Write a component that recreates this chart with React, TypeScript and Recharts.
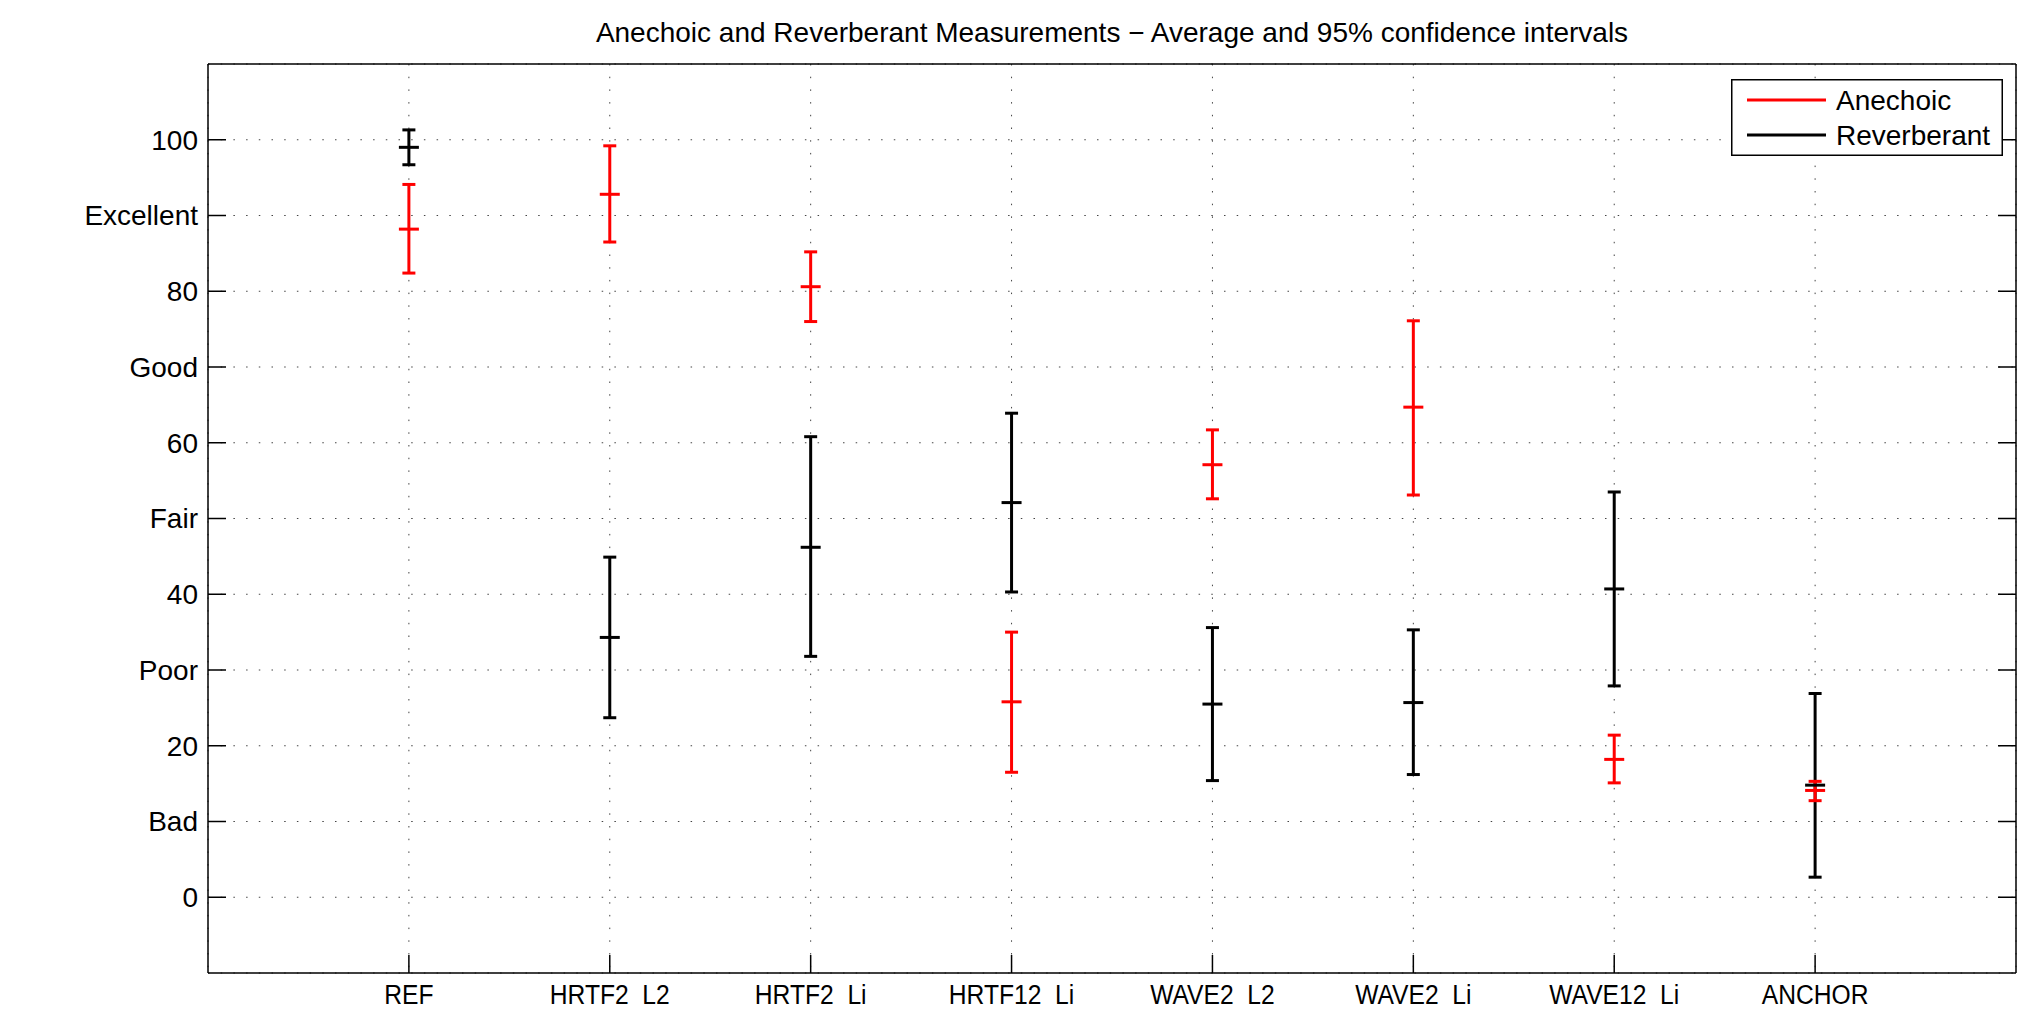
import React from 'react';
import { ComposedChart, Scatter, ErrorBar, XAxis, YAxis, CartesianGrid, Legend } from 'recharts';

if (typeof document !== 'undefined') {
  document.body.style.margin = '0';
  document.body.style.overflow = 'hidden';
}

// ---------- data ----------
const categories = ['REF', 'HRTF2  L2', 'HRTF2  Li', 'HRTF12  Li', 'WAVE2  L2', 'WAVE2  Li', 'WAVE12  Li', 'ANCHOR'];

const anechoicMean = [88.2, 92.8, 80.6, 25.8, 57.1, 64.7, 18.2, 14.1];
const anechoicLow = [82.4, 86.5, 76.0, 16.5, 52.6, 53.1, 15.1, 12.75];
const anechoicHigh = [94.1, 99.2, 85.2, 35.0, 61.7, 76.1, 21.4, 15.3];

const reverbMean = [99.0, 34.3, 46.2, 52.1, 25.5, 25.7, 40.7, 14.8];
const reverbLow = [96.7, 23.7, 31.8, 40.3, 15.4, 16.2, 27.9, 2.65];
const reverbHigh = [101.3, 44.9, 60.8, 63.9, 35.6, 35.3, 53.5, 26.9];

const yTicks = [0, 10, 20, 30, 40, 50, 60, 70, 80, 90, 100];
const yTickLabels = ['0', 'Bad', '20', 'Poor', '40', 'Fair', '60', 'Good', '80', 'Excellent', '100'];
const xTicks = categories.map((_, i) => i + 1);

const seriesNames = ['Anechoic', 'Reverberant'];
const seriesColors: Record<string, string> = { Anechoic: '#ff0000', Reverberant: '#000000' };

const title = 'Anechoic and Reverberant Measurements \u2212 Average and 95% confidence intervals';

const buildData = (mean: number[], low: number[], high: number[]) =>
  categories.map((c, i) => ({
    name: c,
    x: i + 1,
    y: mean[i],
    err: [mean[i] - low[i], high[i] - mean[i]],
  }));

const anechoicData = buildData(anechoicMean, anechoicLow, anechoicHigh);
const reverbData = buildData(reverbMean, reverbLow, reverbHigh);

// ---------- styling ----------
const FONT = '"Liberation Sans", Arial, Helvetica, sans-serif';
const TICK_LEN = 18;
const AXIS_W = 1.5;
const W = 2022;
const H = 1011;

const LeftTick = (props: any) => {
  const { x, y, payload } = props;
  const idx = yTicks.indexOf(payload.value);
  return (
    <g>
      <line x1={x} y1={y} x2={x + TICK_LEN} y2={y} stroke="#000" strokeWidth={AXIS_W} />
      <text x={x - 10} y={y} dy="0.355em" textAnchor="end" fontSize={28} fontFamily={FONT} fill="#000">
        {idx >= 0 ? yTickLabels[idx] : ''}
      </text>
    </g>
  );
};

const RightTick = (props: any) => {
  const { x, y } = props;
  return <line x1={x} y1={y} x2={x - TICK_LEN} y2={y} stroke="#000" strokeWidth={AXIS_W} />;
};

const BottomTick = (props: any) => {
  const { x, y, payload } = props;
  const idx = Math.round(payload.value) - 1;
  return (
    <g>
      <line x1={x} y1={y} x2={x} y2={y - TICK_LEN} stroke="#000" strokeWidth={AXIS_W} />
      <text
        x={0}
        y={0}
        transform={`translate(${x},${y + 31}) scale(0.88,1)`}
        textAnchor="middle"
        fontSize={28}
        fontFamily={FONT}
        fill="#000"
        style={{ whiteSpace: 'pre' }}
      >
        {categories[idx] ?? ''}
      </text>
    </g>
  );
};

const TopTick = (props: any) => {
  const { x, y } = props;
  return <line x1={x} y1={y} x2={x} y2={y + TICK_LEN} stroke="#000" strokeWidth={AXIS_W} />;
};

const MeanMark = (props: any) => {
  const { cx, cy, color } = props;
  if (cx == null || cy == null) return null;
  return <line x1={cx - 10} y1={cy} x2={cx + 10} y2={cy} stroke={color} strokeWidth={3} />;
};

const LegendContent = (props: any) => {
  const payload: any[] = props.payload || [];
  const names = seriesNames.filter((n) => payload.some((p) => p.value === n));
  const list = names.length ? names : seriesNames;
  return (
    <svg width={272} height={77} style={{ display: 'block' }}>
      <rect x={0.75} y={0.75} width={270.5} height={75.5} fill="#fff" stroke="#000" strokeWidth={1.5} />
      {list.map((n, i) => {
        const yy = 21 + i * 35;
        return (
          <g key={n}>
            <line x1={16} y1={yy} x2={95} y2={yy} stroke={seriesColors[n]} strokeWidth={3} />
            <text x={105} y={yy} dy="0.355em" fontSize={28} fontFamily={FONT} fill="#000">
              {n}
            </text>
          </g>
        );
      })}
    </svg>
  );
};

export default function App() {
  return (
    <div style={{ position: 'relative', width: W, height: H, overflow: 'hidden', background: '#fff' }}>
      <ComposedChart width={W} height={H} margin={{ top: 0, right: 0, bottom: 0, left: 0 }}>
        <CartesianGrid stroke="#444" strokeWidth={1} strokeDasharray="1.5 11.2" />
        <XAxis
          dataKey="x"
          type="number"
          domain={[0, 9]}
          ticks={xTicks}
          interval={0}
          allowDataOverflow
          height={38}
          tickSize={0}
          tickMargin={0}
          tickLine={false}
          axisLine={{ stroke: '#000', strokeWidth: AXIS_W }}
          tick={<BottomTick />}
        />
        <XAxis
          xAxisId="top"
          orientation="top"
          type="number"
          domain={[0, 9]}
          ticks={xTicks}
          interval={0}
          allowDataOverflow
          height={64}
          tickSize={0}
          tickMargin={0}
          tickLine={false}
          axisLine={{ stroke: '#000', strokeWidth: AXIS_W }}
          tick={<TopTick />}
        />
        <YAxis
          dataKey="y"
          type="number"
          domain={[-10, 110]}
          ticks={yTicks}
          interval={0}
          allowDataOverflow
          width={208}
          tickSize={0}
          tickMargin={0}
          tickLine={false}
          axisLine={{ stroke: '#000', strokeWidth: AXIS_W }}
          tick={<LeftTick />}
        />
        <YAxis
          yAxisId="right"
          orientation="right"
          type="number"
          domain={[-10, 110]}
          ticks={yTicks}
          interval={0}
          allowDataOverflow
          width={6}
          tickSize={0}
          tickMargin={0}
          tickLine={false}
          axisLine={{ stroke: '#000', strokeWidth: AXIS_W }}
          tick={<RightTick />}
        />
        <Legend
          layout="horizontal"
          align="center"
          verticalAlign="middle"
          width={272}
          height={77}
          wrapperStyle={{ left: 1731, top: 79, width: 272, height: 77 }}
          content={<LegendContent />}
        />
        <Scatter
          name="Reverberant"
          data={reverbData}
          dataKey="y"
          fill="#000"
          isAnimationActive={false}
          shape={(p: any) => <MeanMark {...p} color="#000" />}
        >
          <ErrorBar dataKey="err" direction="y" width={6.5} stroke="#000" strokeWidth={3} isAnimationActive={false} />
        </Scatter>
        <Scatter
          name="Anechoic"
          data={anechoicData}
          dataKey="y"
          fill="#ff0000"
          isAnimationActive={false}
          shape={(p: any) => <MeanMark {...p} color="#ff0000" />}
        >
          <ErrorBar dataKey="err" direction="y" width={6.5} stroke="#ff0000" strokeWidth={3} isAnimationActive={false} />
        </Scatter>
      </ComposedChart>
      <div
        style={{
          position: 'absolute',
          left: 208,
          top: 19,
          width: 1808,
          textAlign: 'center',
          fontFamily: FONT,
          fontSize: 28,
          lineHeight: '28px',
          color: '#000',
          whiteSpace: 'pre',
          pointerEvents: 'none',
        }}
      >
        {title}
      </div>
    </div>
  );
}
